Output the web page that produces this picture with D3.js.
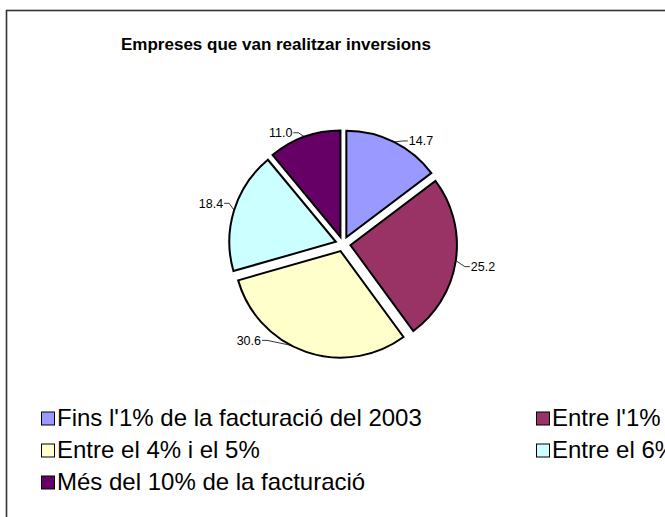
<!DOCTYPE html>
<html>
<head>
<meta charset="utf-8">
<script src="https://cdn.jsdelivr.net/npm/d3@7"></script>
<style>
  html, body { margin: 0; padding: 0; background: #fff; overflow: hidden; }
  svg { display: block; font-family: "Liberation Sans", Arial, sans-serif; }
</style>
</head>
<body>
<svg id="chart" width="665" height="517"></svg>
<script>
// Percentages of companies by investment size (share of 2003 turnover)
const categories = [
  "Fins l'1% de la facturació del 2003",
  "Entre l'1% i el 3%",
  "Entre el 4% i el 5%",
  "Entre el 6% i el 10%",
  "Més del 10% de la facturació"
];
const values = [14.7, 25.2, 30.6, 18.4, 11.0];
const colors = ["#9999FF", "#993366", "#FFFFCC", "#CCFFFF", "#660066"];
const title = "Empreses que van realitzar inversions";

// Label layout: where on each slice's rim the leader starts (0..1 of the sweep)
// and how far the label text sits from that point.
const leaderAt = [0.5, 0.5, 0.58, 0.5, 0.5];
const labelShift = [[15, -1], [15, 6], [-30, -5], [-11, -7], [-12, -4]];

const svg = d3.select("#chart");

// chart frame (continues past the right and bottom edges)
svg.append("rect")
  .attr("x", 6.5).attr("y", 10.5)
  .attr("width", 800).attr("height", 700)
  .attr("fill", "#fff").attr("stroke", "#333").attr("stroke-width", 1.6);

svg.append("text")
  .attr("x", 276).attr("y", 50)
  .attr("text-anchor", "middle")
  .attr("font-size", 17).attr("font-weight", "bold").attr("fill", "#000")
  .text(title);

const cx = 343, cy = 244, r = 106.5, explode = 7.5;

const pie = d3.pie().sort(null).startAngle(0).endAngle(2 * Math.PI);
const arcs = pie(values);
const arc = d3.arc().innerRadius(0).outerRadius(r);

const g = svg.append("g").attr("transform", `translate(${cx},${cy})`);

const shift = d => {
  const a = (d.startAngle + d.endAngle) / 2;
  return [explode * Math.sin(a), -explode * Math.cos(a)];
};

g.selectAll("path.slice")
  .data(arcs)
  .join("path")
  .attr("class", "slice")
  .attr("transform", d => `translate(${shift(d)})`)
  .attr("d", arc)
  .attr("fill", (d, i) => colors[i])
  .attr("stroke", "#000")
  .attr("stroke-width", 2)
  .attr("stroke-linejoin", "miter");

// data labels with leader lines
const lab = g.append("g");
arcs.forEach((d, i) => {
  const [sx, sy] = shift(d);
  const a = d.startAngle + leaderAt[i] * (d.endAngle - d.startAngle);
  const px = sx + r * Math.sin(a), py = sy - r * Math.cos(a);
  const right = Math.sin((d.startAngle + d.endAngle) / 2) > 0;
  const dir = right ? 1 : -1;
  const tx = px + labelShift[i][0], ty = py + labelShift[i][1];
  lab.append("path")
    .attr("d", d3.line()([[px, py], [tx - dir * 6, ty], [tx - dir * 1, ty]]))
    .attr("fill", "none").attr("stroke", "#000").attr("stroke-width", 0.8);
  lab.append("text")
    .attr("x", tx).attr("y", ty)
    .attr("dy", "0.35em")
    .attr("text-anchor", right ? "start" : "end")
    .attr("font-size", 12.5).attr("fill", "#000")
    .text(d3.format(".1f")(d.data));
});

// legend: two columns, filled row by row
const legend = svg.append("g");
const colX = [41, 536], rowY0 = 418, rowH = 32, box = 13;
categories.forEach((c, i) => {
  const x = colX[i % 2], y = rowY0 + Math.floor(i / 2) * rowH;
  legend.append("rect")
    .attr("x", x + 0.5).attr("y", y - box / 2 + 0.5)
    .attr("width", box).attr("height", box)
    .attr("fill", colors[i]).attr("stroke", "#000").attr("stroke-width", 1);
  legend.append("text")
    .attr("x", x + box + 3).attr("y", y).attr("dy", "0.35em")
    .attr("font-size", 24).attr("fill", "#000")
    .text(c);
});
</script>
</body>
</html>
